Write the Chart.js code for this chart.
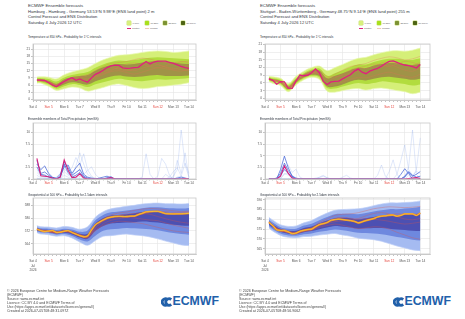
<!DOCTYPE html>
<html>
<head>
<meta charset="utf-8">
<script src="https://cdn.jsdelivr.net/npm/chart.js@4.4.1/dist/chart.umd.min.js"></script>
<style>
body { margin: 0; width: 465px; height: 319px; overflow: hidden; background: #fff; position: relative; font-family: "Liberation Sans", Arial, sans-serif; }
.t { position: absolute; white-space: nowrap; line-height: 1; color: #333; }
canvas { position: absolute; }
</style>
</head>
<body>
<script>
// time axis (hours after Sat 4 00 UTC)
const stepHours = [6,12,18,24,30,36,42,48,54,60,66,72,78,84,90,96,102,108,114,120,126,132,138,144,150,156,162,168,174,180,186,192,198,204,210,216,222,228,234,240];
const bandHours = [6,12,24,36,48,60,72,84,96,108,120,132,144,156,168,180,192,204,216,228,240];
const dayHours = [0,24,48,72,96,120,144,168,192,216,240];
const dayLabels = ['Sat 4','Sun 5','Mon 6','Tue 7','Wed 8','Thu 9','Fri 10','Sat 11','Sun 12','Mon 13','Tue 14'];
const sundayHours = [24, 192];

// Hamburg, temperature 850 hPa
const hamTempControl = [8.1,8.1,8.0,7.0,6.0,5.3,6.5,7.5,8.4,9.1,8.0,8.6,7.8,7.2,9.0,10.5,11.2,12.2,13.3,14.0,14.3,14.2,13.2,13.0,13.1,13.3,13.4,14.7,15.8,14.8,15.6,16.0,16.0,16.0,15.5,15.0,14.4,13.8,13.3,13.0];
const hamTempOuterLo = [6.8,6.8,5.5,3.8,4.5,5.2,4.8,3.5,4.2,5.0,6.0,6.5,5.8,5.0,4.6,4.8,5.4,5.6,6.0,6.4,7.0];
const hamTempMidLo = [7.4,7.3,6.2,4.5,5.5,6.4,6.0,5.2,6.4,7.2,8.0,8.6,8.2,7.8,7.6,8.0,8.4,8.2,8.4,8.6,9.0];
const hamTempCoreLo = [7.8,7.7,6.8,5.2,6.3,7.2,6.8,6.2,7.6,8.6,9.6,10.0,9.6,9.4,9.6,10.0,10.2,9.8,9.8,9.8,10.0];
const hamTempCoreHi = [8.4,8.4,7.8,6.5,8.4,9.4,9.8,10.2,12.0,13.4,14.4,14.8,14.6,14.8,15.4,15.8,16.0,15.6,15.4,15.0,14.8];
const hamTempMidHi = [8.8,8.9,8.5,7.5,9.2,10.2,10.8,11.4,13.2,14.6,15.6,16.2,16.0,16.4,17.0,17.4,17.6,17.4,17.2,17.0,16.8];
const hamTempOuterHi = [9.4,9.5,9.3,8.6,10.3,11.5,12.3,13.2,15.0,16.5,17.6,18.4,18.6,19.0,19.6,20.0,20.2,20.0,19.6,19.8,20.2];
const hamTempMembers = [
  [8.2,8.0,7.2,5.8,7.0,8.0,8.4,8.2,10.0,11.5,12.6,13.0,12.4,12.0,13.0,14.0,14.4,13.6,13.0,12.4,12.0],
  [8.0,7.8,7.0,6.2,8.0,9.0,9.6,10.4,12.0,13.8,15.0,15.4,15.8,16.6,17.2,16.8,16.0,15.4,15.0,15.6,16.0],
  [8.3,8.2,7.6,6.0,7.4,8.6,8.0,7.4,9.2,10.4,11.6,12.0,11.2,10.6,11.4,12.4,13.2,12.8,12.2,11.8,12.6],
  [7.9,7.6,7.4,6.4,7.6,8.2,8.8,9.8,11.0,12.8,13.4,12.6,12.0,12.8,14.2,15.4,14.6,13.4,12.6,13.4,14.4],
  [8.1,8.0,7.3,5.6,7.2,8.8,9.2,8.6,9.6,10.8,12.0,13.6,14.8,15.2,14.6,13.8,13.2,14.0,15.2,15.8,15.2]
];

// Stuttgart, temperature 850 hPa
const stuTempControl = [7.6,7.0,5.5,6.5,6.4,4.0,3.9,6.8,9.1,8.8,9.0,10.0,11.5,10.0,6.6,5.4,6.4,6.6,6.7,7.6,8.4,9.2,10.6,11.4,10.2,9.6,10.6,11.2,11.7,12.5,13.6,14.4,14.6,14.0,13.4,13.0,12.8,12.4,11.8,13.2];
const stuTempOuterLo = [6.6,5.8,5.0,2.6,5.2,7.2,8.2,7.4,2.8,2.4,3.0,3.6,3.8,3.2,3.8,4.0,3.6,3.0,2.6,1.8,2.4];
const stuTempMidLo = [7.0,6.4,5.6,3.2,5.8,7.8,8.8,8.2,4.0,3.8,4.6,5.4,6.0,5.6,6.0,6.6,6.4,6.0,5.6,5.0,5.4];
const stuTempCoreLo = [7.3,6.8,6.0,3.6,6.2,8.2,9.2,8.7,4.6,4.6,5.4,6.6,7.2,7.0,7.6,8.2,8.4,8.0,7.6,7.2,7.6];
const stuTempCoreHi = [7.9,7.4,6.8,4.6,7.4,9.4,10.8,10.9,7.8,8.8,9.8,11.0,11.9,11.8,12.8,13.4,13.8,13.7,13.3,13.0,13.6];
const stuTempMidHi = [8.2,7.8,7.2,5.2,7.8,9.8,11.2,11.6,8.8,9.8,11.0,12.2,13.2,13.2,14.2,15.0,15.4,15.4,15.0,15.0,15.6];
const stuTempOuterHi = [8.6,8.4,7.8,5.8,8.6,10.6,12.0,12.6,10.8,12.0,13.2,14.6,15.6,16.0,17.0,17.8,18.4,18.6,18.4,18.8,19.6];
const stuTempMembers = [
  [7.6,7.1,6.5,4.2,6.8,8.8,10.0,10.4,6.0,6.6,8.0,9.6,10.6,9.8,11.0,12.2,13.0,12.2,11.0,10.6,11.8],
  [7.5,7.2,6.4,4.0,6.6,9.0,10.2,9.6,7.8,9.4,11.0,12.4,13.0,13.6,14.8,15.6,16.2,15.8,15.0,15.4,16.4],
  [7.7,7.0,6.2,4.4,7.0,8.6,9.8,9.2,5.0,5.4,6.4,7.4,8.2,8.0,8.8,9.6,10.2,9.4,8.6,8.2,9.4],
  [7.6,7.2,6.6,3.8,6.4,8.4,9.6,10.2,7.0,8.0,9.4,11.0,12.0,11.6,12.4,13.8,14.2,13.6,13.0,12.8,14.0],
  [7.4,7.0,6.3,4.2,7.2,9.2,10.6,10.8,8.6,8.4,9.0,10.0,11.8,12.6,13.4,13.0,12.4,13.4,14.4,14.0,13.0]
];

// total precipitation mm/6h
const hamPrecipControl = [4.4,0.7,0.6,0.5,0.2,0,0.4,4.1,1.9,0.3,0.4,1.1,0.2,0,0,0,0,0,0.1,0.3,0,0,0,0,0,0,0,0,0,0,0,0,0,0,0,0,0,0,0.1,0];
const hamPrecipMembers = [
  [4.0,1.2,1.5,0.8,0.3,0.2,1.0,3.6,2.4,0.8,1.4,2.0,0.6,0.2,0,0,0.2,0.4,0.6,0.2,0,0,0,0,0,0,0,0,0,0,0,0,0,0,0,0,0,0,0,0],
  [3.2,2.0,2.8,1.2,0.4,0,0.6,2.6,3.0,1.2,2.4,3.4,1.0,0.4,0.2,0,0,0,0.3,0.5,0,0,0,0,0,0,0,0,0,0,0,0,0,0,0,0,0,0,0,0],
  [2.6,1.0,0.8,0.4,0.2,0,0.4,3.2,1.4,0.4,0.8,1.4,0.4,0,0,0,0,0,0,0.2,0,0,0,0,0,0,0,0,0,0,0,0,0,0,0,0,0.2,0.4,0.2,0],
  [2.0,0.8,1.0,0.5,0,0,0.2,3.0,1.0,0.6,2.8,5.6,3.2,1.0,0.4,0.2,0,0,0,0,0,0,0,0,0,0,0,0,0,0,0,0,0,0,0,0,0,0,0,0],
  [1.4,0.6,0.4,0.2,0,0.4,1.2,2.0,1.6,2.4,4.6,3.0,5.4,2.0,0.6,0,0,0,0,0,0,0,0,0,0,0,0,0.4,5.4,1.0,0,0,0,0,0,0,0,0,0,0],
  [0.8,0.3,0.2,0,0,0,0,1.6,0.8,0.4,1.2,2.2,1.0,1.8,2.6,1.0,0.2,0,0,0,0,0,0,0,0,0,0,0,0,0,0,0,0,0,0,0,0,0,0,0],
  [0.2,0,0,0,0,0,0,0.8,0.4,0,0.2,0.6,0.2,0,0,0,0,0,0,0,0,0,0,0,0,0,0,0,0,0,0,0.6,4.4,3.2,0.8,0,0.4,0.6,0.2,0],
  [0,0,0,0,0,0,0,0,0,0,0,0,0,0,0,0,0,0,0,0,0,0,0,0,0,0,0,0,0,0,0,0,0,0,0,0.6,2.0,10.5,3.0,0.4],
  [0,0,0,0,0,0,0,0,0,0,0,0,0,0,0,0,0,0,0,0,0,0,0,0,0,0,0,0,0,0,0,0,0,1.0,0.4,0.2,4.0,1.2,5.6,0.2],
  [0,0,0,0,0,0,0,0,0,0,0,0,0,0,0,0,0,0,0,0,0,0,0,0,0,0,0,0,0,0,0,0,0,0,0.4,1.6,2.4,0.6,3.4,1.2]
];
const stuPrecipControl = [0,0,0,0.6,2.8,1.2,0.2,0,0,0,0,0,0,0,0,0,0,0,0,0,0,0,0,0,0,0,0,0,0,0,0,0,0,0,0,0,0.1,0.2,0.3,0.1];
const stuPrecipMembers = [
  [0,0,0.2,1.2,3.4,1.8,0.6,0.2,0,0,0,0,0,0,0,0,0,0,0,0,0,0,0,0,0,0,0,0,0,0,0,0,0,0,0,0.6,1.6,0.8,0.4,0.6],
  [0,0,0,0.8,2.0,1.2,0.3,0,0,0,0,0,0,0,0,0,0,0,0,0,0,0,0,0,0,0,0,0,0,0,0,0,0,0,0,0.4,1.4,0.6,1.0,1.6],
  [0,0,0,2.0,4.9,2.4,0.6,0,0,0,0,0,0,0,0,0,0,0,0,0,0,0,0,0,0,0,0,0,0,0,0,0,0,0,1.0,2.2,1.2,0,0,0],
  [0,0,0,0.4,2.2,3.0,1.4,2.1,0.4,0,0,0,0,0,0,0,0,0,0,0,0,0,0,0,0,0,0,0,0.8,3.0,0.6,0,0,0,0,0,0,0,0,0],
  [0,0,0,0.2,1.0,1.4,0.4,0,0,0,0,0,0.2,0.3,0.6,0.3,0,0,0,0,0,0,0,0,0,0,0,0,0,0,0,0,0,1.0,4.0,7.3,2.0,0.8,1.6,1.2],
  [0,0,0,0,0,0,0,0,0,0,0,0,0,0,0,0,0,0,0,0,0,0,0,0,0,0,0,0,0,0,0,0,0,0,0,0.4,2.6,10.5,1.0,0.2],
  [0,0,0,0,0,0,0,0,0,0,0,0,0,0,0,0,0,0,0,0,0,0,0,0,0,0,0,0,0,0,0,0,0,0,0,0,0,0.4,2.0,8.8],
  [0,0,0,0,0,0,0,0,0,0,0,0,0,0,0,0,0,0,0,0,0,0,0,0,0,0,0,0,0,0,0,1.6,4.1,1.0,0,0,0,0,0,0],
  [0,0,0,0,0,0,0,0,0,0,0,0,0,0,0,0,0,0,0,0.4,0.8,0.2,0,0,0,0,0,0,0,0,0,0,0,0,0,0,0,0,0,0],
  [0,0,0,0,1.2,0.8,0.2,0,0,0,0,0,0,0.4,0.8,0.2,0,0,0,0,0,0,0,0,0,0,0,0,0,0,0,0,0,0,0,0,0.8,0,0.4,0.6]
];

// geopotential 500 hPa (dam)
const hamGeoControl = [573.1,572.2,571.6,571.9,572.2,571.0,571.2,571.8,572.2,571.0,570.0,569.0,568.3,568.8,572.5,575.8,577.4,578.8,580.0,580.6,581.0,581.1,581.0,581.0,581.2,581.3,582.2,583.0,583.9,584.1,584.2,584.2,583.6,582.8,582.7,582.6,582.7,582.7,582.8,583.0];
const hamGeoOuterLo = [570.8,570.0,569.6,568.6,569.0,567.6,565.0,563.0,566.0,568.6,569.0,569.6,570.0,569.4,569.0,568.2,567.0,565.6,564.4,563.2,562.8];
const hamGeoMidLo = [571.6,570.9,570.6,569.6,570.0,568.8,566.6,565.4,569.0,572.0,573.0,573.4,573.8,573.6,573.4,573.0,572.4,571.4,570.6,570.0,569.6];
const hamGeoCoreLo = [572.3,571.6,571.3,570.3,570.8,569.8,567.8,567.0,572.0,575.0,576.6,577.0,577.2,577.4,577.8,577.6,577.2,576.4,575.8,575.4,575.2];
const hamGeoCoreHi = [573.6,572.9,572.6,571.7,572.6,571.8,570.2,570.2,576.6,580.0,581.6,582.0,582.4,583.0,583.8,584.2,584.0,583.4,583.0,582.8,583.0];
const hamGeoMidHi = [574.2,573.6,573.4,572.6,573.4,572.8,571.4,572.2,578.6,582.0,583.6,584.2,584.8,585.4,586.2,586.8,586.8,586.4,586.2,586.0,586.4];
const hamGeoOuterHi = [575.2,574.6,574.4,573.8,574.8,574.2,573.0,574.6,580.6,584.0,585.8,586.6,587.4,588.0,588.8,589.2,589.4,589.0,589.0,588.8,589.2];
const hamGeoMembers = [
  [573.0,572.4,571.6,570.8,571.6,570.6,568.4,567.8,574.0,578.4,580.2,580.8,581.0,581.6,582.4,583.6,584.4,584.0,583.6,583.4,583.8],
  [573.2,572.6,572.0,571.2,572.0,571.2,569.4,569.0,572.6,575.4,577.0,578.0,577.8,577.2,576.6,575.4,574.2,573.0,572.0,571.4,571.0],
  [572.8,572.0,571.4,570.6,571.8,571.4,569.8,568.6,575.6,579.6,582.0,583.2,583.8,584.8,585.6,586.0,585.8,585.2,584.6,584.0,584.4],
  [573.0,572.2,571.8,571.0,572.2,570.8,568.8,567.4,572.0,576.4,578.6,579.6,580.4,580.0,579.4,578.8,578.4,577.0,575.6,574.6,573.6],
  [573.1,572.4,571.5,571.2,571.4,571.0,569.0,568.2,573.6,577.8,580.2,581.8,582.6,583.0,583.0,582.4,581.0,579.6,578.4,577.4,576.8]
];
const stuGeoControl = [578.5,576.8,574.7,574.3,574.3,573.6,572.7,573.0,573.9,574.4,574.8,575.0,576.2,577.3,577.8,578.4,579.5,579.9,580.1,579.9,579.6,579.4,579.0,578.2,578.7,579.4,579.9,580.4,581.2,581.6,581.8,582.1,582.2,581.6,582.0,582.8,582.8,582.8,582.0,583.2];
const stuGeoOuterLo = [575.6,574.0,571.8,570.8,570.6,571.2,571.4,572.0,572.4,572.8,572.0,571.4,570.4,570.0,569.6,568.8,567.6,566.4,565.4,564.4,564.0];
const stuGeoMidLo = [576.6,575.0,572.8,571.8,571.6,572.4,572.8,573.6,574.2,574.8,574.4,573.8,573.2,573.0,572.8,572.4,571.8,571.0,570.4,569.6,569.2];
const stuGeoCoreLo = [577.4,575.8,573.6,572.6,572.4,573.4,574.0,575.0,575.8,576.6,576.2,575.8,575.2,575.4,575.6,575.6,575.2,574.8,574.6,574.2,574.0];
const stuGeoCoreHi = [579.0,577.4,575.2,574.2,574.2,575.6,576.4,578.0,579.4,580.6,580.8,580.6,580.0,580.6,581.2,581.8,582.2,582.0,582.4,582.6,583.0];
const stuGeoMidHi = [579.8,578.4,576.0,575.2,575.2,576.8,577.8,579.6,581.2,582.6,582.8,582.8,582.6,583.2,584.0,584.6,585.2,585.2,585.6,585.8,586.4];
const stuGeoOuterHi = [581.0,579.6,577.2,576.4,576.6,578.2,579.4,581.4,583.2,584.6,585.0,585.2,585.4,586.0,587.0,587.8,588.4,588.4,588.6,588.8,589.4];
const stuGeoMembers = [
  [578.4,576.6,574.2,573.4,572.8,574.2,575.0,577.2,578.2,579.8,580.2,579.6,578.6,579.8,580.8,581.6,582.4,582.8,582.6,582.4,583.0],
  [578.6,576.8,574.4,573.8,573.2,574.6,575.8,578.4,580.2,582.0,582.6,582.8,583.4,584.4,585.4,586.0,586.4,586.2,586.0,586.2,586.6],
  [578.2,576.4,574.0,573.2,572.6,573.8,574.4,576.0,576.8,577.6,577.0,576.0,575.2,575.6,576.2,576.0,575.0,573.4,572.0,570.6,569.8],
  [578.5,576.9,574.6,573.6,573.4,574.8,575.4,577.6,579.0,580.6,581.0,580.6,580.0,580.4,580.0,579.6,579.0,578.2,577.6,578.0,578.6],
  [578.3,576.5,574.3,573.5,573.0,574.0,574.6,576.6,577.8,578.8,579.2,579.6,580.4,581.8,583.0,583.4,582.8,581.4,580.2,579.8,580.4]
];

// axis tick values
const tempTicks = [0,3,6,9,12,15,18,21];
const precipTicks = [0,2.5,5,7.5,10];
const hamGeoTicks = [564,572,580,588];
const stuGeoTicks = [565,570,575,580,585,590];
const legendLabels = ['1-10%','10-25%','25-50%','50-100%'];

Chart.defaults.font.family = '"Liberation Sans", Arial, sans-serif';
Chart.defaults.animation = false;

function pts(xs, ys) { return ys.map((y, i) => ({x: xs[i], y: y})); }

function line(xs, ys, color, width, order, extra) {
  return Object.assign({
    data: pts(xs, ys), borderColor: color, borderWidth: width,
    pointRadius: 0, fill: false, order: order, tension: 0
  }, extra || {});
}

function band(xs, lo, hi, fillColor, edge, order) {
  return [
    line(xs, lo, edge || fillColor, edge ? 0.7 : 0, order, {tension: 0.35}),
    line(xs, hi, edge || fillColor, edge ? 0.7 : 0, order, {tension: 0.35, fill: '-1', backgroundColor: fillColor})
  ];
}

const frame = {
  id: 'frame',
  afterDraw(chart) {
    const a = chart.chartArea, c = chart.ctx;
    c.save();
    c.strokeStyle = '#c9c9c9';
    c.lineWidth = 0.8;
    c.strokeRect(a.left, a.top, a.right - a.left, a.bottom - a.top);
    c.restore();
  }
};

let minorHours = [];
for (let h = 0; h <= 240; h += 6) minorHours.push(h);

function makeChart(box, xMax, yMin, yMax, yTicks, datasets, xa) {
  const cv = document.createElement('canvas');
  const w = box.w + 23, h = box.h + 3 + xa.height;
  cv.width = w; cv.height = h;
  cv.style.left = (box.l - 20) + 'px';
  cv.style.top = (box.t - 3) + 'px';
  cv.style.width = w + 'px';
  cv.style.height = h + 'px';
  document.body.appendChild(cv);
  new Chart(cv, {
    type: 'line',
    data: { datasets: datasets },
    plugins: [frame],
    options: {
      responsive: false,
      devicePixelRatio: 1,
      layout: { padding: { top: 3, right: 3, left: 0, bottom: 0 } },
      plugins: { legend: { display: false }, tooltip: { enabled: false } },
      scales: {
        x: {
          type: 'linear', min: 0, max: xMax,
          afterBuildTicks: s => { s.ticks = minorHours.map(v => ({value: v})); },
          afterFit: s => { s.height = xa.height; },
          ticks: {
            autoSkip: false, maxRotation: 0, padding: xa.pad,
            font: { size: 3.2, lineHeight: 1.4 },
            color: c => (c.tick && sundayHours.includes(c.tick.value)) ? '#e5463e' : '#555',
            callback: v => {
              const i = dayHours.indexOf(v);
              if (i < 0) return '';
              if (xa.year && i === 0) return [dayLabels[0], 'Jul', '2026'];
              return dayLabels[i];
            }
          },
          grid: {
            color: c => (c.tick && dayHours.includes(c.tick.value)) ? '#e4e4e4' : 'rgba(0,0,0,0)',
            lineWidth: 0.6, tickLength: xa.tick, tickColor: '#9a9a9a'
          },
          border: { color: '#bdbdbd', width: 0.8 }
        },
        y: {
          min: yMin, max: yMax,
          afterBuildTicks: s => { s.ticks = yTicks.map(v => ({value: v})); },
          afterFit: s => { s.width = 20; },
          ticks: { font: { size: 3.2 }, color: '#555', padding: 1 },
          grid: { color: '#e4e4e4', lineWidth: 0.6, tickLength: 2, tickColor: '#9a9a9a' },
          border: { color: '#bdbdbd', width: 0.8 }
        }
      }
    }
  });
}

function tempSets(outerLo, midLo, coreLo, coreHi, midHi, outerHi, members, control) {
  let ds = [];
  ds = ds.concat(band(bandHours, outerLo, outerHi, '#d5ef78', '#e8f8b0', 5));
  ds = ds.concat(band(bandHours, midLo, midHi, '#b2dc3e', null, 4));
  ds = ds.concat(band(bandHours, coreLo, coreHi, '#a09347', null, 3));
  members.forEach(m => ds.push(line(bandHours, m, 'rgba(226,112,88,0.6)', 0.5, 2, {tension: 0.3})));
  ds.push(line(stepHours, control, '#e0207e', 1.3, 1));
  return ds;
}

function geoSets(outerLo, midLo, coreLo, coreHi, midHi, outerHi, members, control) {
  let ds = [];
  ds = ds.concat(band(bandHours, outerLo, outerHi, '#a5bbf1', '#bccdf7', 5));
  ds = ds.concat(band(bandHours, midLo, midHi, '#6e88df', null, 4));
  ds = ds.concat(band(bandHours, coreLo, coreHi, '#4c50b2', null, 3));
  members.forEach(m => ds.push(line(bandHours, m, 'rgba(222,84,72,0.65)', 0.5, 2, {tension: 0.3})));
  ds.push(line(stepHours, control, '#f08a24', 1.8, 1, {tension: 0.2}));
  ds.push(line(stepHours, control, '#f3d640', 0.7, 0, {tension: 0.2}));
  return ds;
}

function precipSets(members, strong, control) {
  const ds = [];
  members.forEach((m, i) => ds.push(line(stepHours, m,
    strong.includes(i) ? 'rgba(52,88,212,0.85)' : 'rgba(118,152,234,0.38)',
    strong.includes(i) ? 0.8 : 0.6, strong.includes(i) ? 2 : 3)));
  ds.push(line(stepHours, control, '#d4207c', 1.1, 1));
  return ds;
}

const xTemp = { height: 10, pad: 3, tick: 2, year: false };
const xPrecip = { height: 6, pad: 0.5, tick: 1.5, year: false };
const xGeo = { height: 18, pad: 3, tick: 2, year: true };

// left panel: Hamburg
makeChart({l: 33, t: 44, w: 163, h: 56}, 250.8, -0.2, 23.1, tempTicks,
  tempSets(hamTempOuterLo, hamTempMidLo, hamTempCoreLo, hamTempCoreHi, hamTempMidHi, hamTempOuterHi, hamTempMembers, hamTempControl), xTemp);
makeChart({l: 33, t: 123, w: 163, h: 56}, 250.8, 0, 12, precipTicks,
  precipSets(hamPrecipMembers, [0, 1, 2], hamPrecipControl), xPrecip);
makeChart({l: 33, t: 198, w: 163, h: 56}, 250.8, 557.5, 592.6, hamGeoTicks,
  geoSets(hamGeoOuterLo, hamGeoMidLo, hamGeoCoreLo, hamGeoCoreHi, hamGeoMidHi, hamGeoOuterHi, hamGeoMembers, hamGeoControl), xGeo);

// right panel: Stuttgart
makeChart({l: 265, t: 44, w: 165, h: 56}, 255, -0.66, 21.2, tempTicks,
  tempSets(stuTempOuterLo, stuTempMidLo, stuTempCoreLo, stuTempCoreHi, stuTempMidHi, stuTempOuterHi, stuTempMembers, stuTempControl), xTemp);
makeChart({l: 265, t: 123, w: 165, h: 56}, 255, 0, 12, precipTicks,
  precipSets(stuPrecipMembers, [0, 1, 2], stuPrecipControl), xPrecip);
makeChart({l: 265, t: 198, w: 165, h: 56}, 255, 562.3, 590.9, stuGeoTicks,
  geoSets(stuGeoOuterLo, stuGeoMidLo, stuGeoCoreLo, stuGeoCoreHi, stuGeoMidHi, stuGeoOuterHi, stuGeoMembers, stuGeoControl), xGeo);

// texts
function text(x, yc, s, size, color, extra) {
  const d = document.createElement('div');
  d.className = 't';
  d.textContent = s;
  d.style.left = x + 'px';
  d.style.top = (yc - size * 0.55) + 'px';
  d.style.fontSize = size + 'px';
  if (color) d.style.color = color;
  if (extra) Object.assign(d.style, extra);
  document.body.appendChild(d);
  return d;
}
function rect(x, y, w, h, bg, extra) {
  const d = document.createElement('div');
  d.style.cssText = `position:absolute;left:${x}px;top:${y}px;width:${w}px;height:${h}px;background:${bg}`;
  if (extra) Object.assign(d.style, extra);
  document.body.appendChild(d);
}

const panels = [
  { dx: 0, place: 'Hamburg - Hamburg - Germany 53.53°N 9.98°E (ENS land point) 2 m', created: 'Created at 2026-07-05T08:48:31.097Z' },
  { dx: 232, place: 'Stuttgart - Baden-Württemberg - Germany 48.75°N 9.14°E (ENS land point) 255 m', created: 'Created at 2026-07-05T08:48:56.906Z' }
];
const legendColors = ['#d8f07c', '#a8e01c', '#7d9234', '#4e6414'];

panels.forEach(p => {
  const x = 28 + p.dx;
  text(x, 6, 'ECMWF Ensemble forecasts', 4.3, '#2f3640');
  text(x, 11.8, p.place, 4.1, '#2f3640');
  text(x, 17.4, 'Control Forecast and ENS Distribution', 4.1, '#2f3640');
  text(x, 23.3, 'Saturday 4 July 2026 12 UTC', 4.1, '#2f3640');

  legendLabels.forEach((lab, i) => {
    rect(p.dx + 127 + 18 * i, 20.7, 4.3, 4.3, legendColors[i], { borderRadius: '0.8px', boxShadow: '0 0 0 0.4px #c4dc6a' });
    text(p.dx + 132.5 + 18 * i, 23, lab, 2.3, '#555');
  });
  rect(p.dx + 127, 27.8, 4, 0.7, '#e0207e');
  text(p.dx + 132, 28.2, 'Control', 2.3, '#555');
  rect(p.dx + 145, 27.8, 4, 0.7, '#f0c8b8');
  text(p.dx + 150, 28.2, 'Median', 2.3, '#555');

  text(x, 37.7, 'Temperature at 850 hPa - Probability for 1°C intervals', 3.1, '#2f3640');
  text(x, 119.5, 'Ensemble members of Total Precipitation (mm/6h)', 3.2, '#2f3640');
  text(x, 195.7, 'Geopotential at 500 hPa – Probability for 2.5dam intervals', 3.1, '#2f3640');

  const fx = p.dx + 7;
  const foot = ['© 2026 European Centre for Medium-Range Weather Forecasts', '(ECMWF)', 'Source: www.ecmwf.int',
    'Licence: CC BY 4.0 and ECMWF Terms of', 'Use (https://apps.ecmwf.int/datasets/licences/general/)', p.created];
  foot.forEach((s, i) => text(fx, 291.7 + 4 * i, s, 3.6, '#444'));

  // logo mark
  const svgNS = 'http://www.w3.org/2000/svg';
  const svg = document.createElementNS(svgNS, 'svg');
  svg.setAttribute('width', '12');
  svg.setAttribute('height', '10');
  svg.style.cssText = `position:absolute;left:${p.dx + 160.5}px;top:296.8px`;
  svg.innerHTML = '<path d="M6.6 2.6 A3.2 3.2 0 1 0 6.6 7.4" stroke="#2160aa" stroke-width="2.8" fill="none"/>' +
    '<path d="M10.2 2.6 A3.2 3.2 0 1 0 10.2 7.4" stroke="#2160aa" stroke-width="2.8" fill="none"/>';
  document.body.appendChild(svg);
  text(p.dx + 172.5, 301.8, 'ECMWF', 12.3, '#2160aa', { fontWeight: 'bold' });
});
</script>
</body>
</html>
